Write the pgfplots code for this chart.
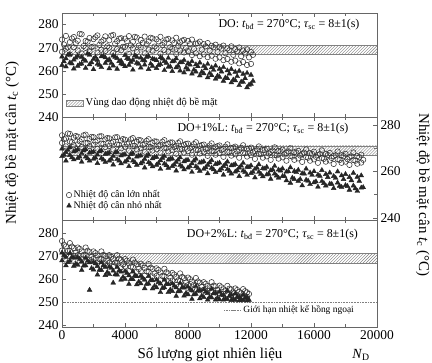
\documentclass[border=0pt]{standalone}
\usepackage{pgfplots}
\pgfplotsset{compat=1.18}
\usepackage{pgfplotstable}
\usepackage{fontspec}
\setmainfont{Liberation Serif}
\usetikzlibrary{patterns}

\pgfplotstableread{
x c1 c2 t1 t2 xb c3 t3
0 273.5 268.2 266.1 262.4 125 271.4 264.0
250 275.1 269.6 265.3 261.8 375 270.1 266.9
500 272.4 267.1 267.0 263.5 625 274.0 263.1
750 274.6 270.2 264.8 260.9 875 271.9 265.6
1000 273.0 268.8 266.4 262.1 1125 276.0 262.8
1250 275.8 267.5 265.9 263.0 1375 270.7 264.9
1500 272.9 269.9 264.2 261.2 1625 272.6 267.4
1750 274.2 268.4 266.8 262.7 1875 270.3 263.6
2000 273.7 270.5 265.1 260.6 2125 274.5 265.9
2250 275.3 267.9 264.6 262.9 2375 271.2 262.5
2500 272.6 269.1 266.2 261.5 2625 273.3 266.3
2750 274.9 268.6 265.7 263.3 2875 270.6 264.4
3000 273.2 270.0 264.9 261.0 3125 275.2 263.3
3250 275.5 267.7 266.5 262.2 3375 271.7 266.0
3500 272.8 269.4 265.4 260.8 3625 273.9 264.1
3750 274.1 268.9 264.3 263.1 3875 270.4 262.7
4000 273.9 270.3 266.7 261.9 4125 272.8 265.4
4250 275.0 267.3 265.0 262.5 4375 271.0 263.8
4500 272.5 269.7 264.7 260.4 4625 274.7 266.6
4750 274.4 268.1 266.0 263.4 4875 270.9 262.9
5000 273.3 270.1 265.6 261.3 5125 272.1 264.6
5250 274.8 267.6 264.4 262.6 5375 271.5 265.9
5500 272.7 269.2 266.3 260.7 5625 274.3 263.0
5750 274.0 268.7 265.2 262.0 5875 270.5 264.9
6000 273.6 269.8 264.5 261.1 6125 272.7 262.4
6250 274.7 267.4 265.8 262.8 6375 271.1 265.2
6500 272.2 269.0 264.1 260.2 6625 273.5 263.4
6750 273.8 268.3 265.5 261.6 6875 270.2 261.8
7000 273.1 269.5 264.0 259.8 7125 272.0 264.2
7250 274.3 267.2 265.3 261.4 7375 270.8 262.1
7500 272.3 268.8 263.6 260.0 7625 273.0 263.7
7750 273.4 267.9 264.6 259.2 7875 270.0 261.3
8000 272.9 268.5 263.2 260.5 8125 271.6 262.6
8250 273.5 266.8 264.1 258.7 8375 269.5 260.4
8500 271.8 267.6 262.7 259.6 8625 271.9 261.9
8750 272.6 266.3 263.5 257.9 8875 269.2 259.5
9000 271.5 267.1 262.0 258.8 9125 270.6 261.0
9250 272.0 265.9 262.9 257.1 9375 268.7 258.9
9500 270.8 266.5 261.4 258.0 9625 270.2 260.3
9750 271.3 265.2 262.2 256.5 9875 268.1 257.8
10000 270.4 265.8 260.8 257.3 10125 269.6 259.6
10250 270.9 264.6 261.5 255.6 10375 267.6 257.0
10500 269.7 265.1 260.1 256.7 10625 268.9 258.7
10750 270.6 263.9 260.7 254.9 10875 266.9 256.1
11000 269.4 264.4 259.5 255.8 11125 268.4 257.6
11250 270.1 263.2 259.9 253.7 11375 266.3 255.2
11500 268.8 263.8 258.6 255.1 11625 267.5 256.7
11750 269.3 262.5 259.0 252.8 11875 265.8 253.9
12000 268.1 263.0 258.2 254.3 12125 266.9 255.6
}\dataA

\pgfplotstableread{
x c1 c2 t1 t2 xb c3 t3
0 275.6 272.3 269.8 266.5 125 273.9 267.1
250 274.2 270.8 268.3 264.6 375 276.4 269.2
500 276.2 272.9 270.3 267.0 625 272.6 266.0
750 274.6 271.3 268.6 265.1 875 275.3 268.9
1000 275.0 271.7 269.4 265.7 1125 273.0 266.3
1250 273.9 270.5 267.8 264.1 1375 275.6 269.0
1500 275.9 272.2 269.5 266.3 1625 272.3 265.6
1750 274.0 270.9 268.0 264.6 1875 274.9 268.3
2000 274.8 271.5 268.5 265.4 2125 272.8 265.9
2250 273.4 269.8 267.2 263.5 2375 275.1 268.6
2500 275.2 272.0 269.0 265.7 2625 271.9 265.0
2750 273.8 270.5 267.5 264.0 2875 274.4 267.7
3000 274.3 271.0 268.1 264.6 3125 272.3 265.3
3250 272.9 269.4 266.6 262.9 3375 274.7 268.1
3500 274.8 271.6 268.4 265.2 3625 271.5 264.6
3750 273.3 270.0 266.8 263.4 3875 274.0 267.2
4000 273.7 270.6 267.3 264.1 4125 271.9 264.7
4250 272.5 269.0 265.9 262.2 4375 273.9 267.4
4500 274.4 271.0 267.8 264.6 4625 271.0 263.9
4750 272.8 269.5 266.3 262.8 4875 273.6 266.7
5000 273.4 270.0 266.8 263.4 5125 271.4 264.1
5250 272.0 268.5 265.3 261.6 5375 273.2 266.5
5500 273.9 270.6 267.2 263.9 5625 270.5 263.2
5750 272.3 269.0 265.6 262.1 5875 273.0 266.1
6000 272.9 269.6 266.2 262.8 6125 270.9 263.5
6250 271.5 268.1 264.7 261.0 6375 272.8 265.8
6500 273.5 270.2 266.6 263.3 6625 270.1 262.6
6750 271.9 268.6 265.0 261.5 6875 272.5 265.4
7000 272.5 269.2 265.5 262.2 7125 270.5 262.9
7250 271.0 267.6 264.0 260.3 7375 272.3 265.0
7500 273.0 269.7 266.0 262.7 7625 269.6 262.0
7750 271.4 268.1 264.3 260.8 7875 271.9 264.8
8000 272.0 268.7 264.9 261.6 8125 270.0 262.2
8250 270.6 267.2 263.4 259.7 8375 271.8 264.6
8500 272.6 269.3 265.4 262.1 8625 269.2 261.4
8750 271.0 267.7 263.7 260.2 8875 271.4 264.0
9000 271.6 268.3 264.3 261.0 9125 269.6 261.7
9250 270.1 266.7 262.8 259.1 9375 271.2 263.8
9500 272.1 268.8 264.8 261.5 9625 268.7 260.8
9750 270.5 267.2 263.1 259.6 9875 270.9 263.4
10000 271.2 267.9 263.7 260.4 10125 269.2 261.1
10250 269.7 266.3 262.2 258.5 10375 270.7 263.1
10500 271.7 268.4 264.2 260.9 10625 268.3 260.2
10750 270.1 266.8 262.5 259.0 10875 270.3 262.7
11000 270.7 267.4 263.1 259.8 11125 268.6 260.4
11250 269.3 265.9 261.6 257.9 11375 270.2 262.4
11500 271.3 268.0 263.6 260.3 11625 267.9 259.6
11750 269.7 266.4 261.9 258.4 11875 269.8 261.9
12000 270.3 267.0 262.5 259.2 12125 268.2 259.7
12250 268.8 265.4 261.0 257.3 12375 269.6 261.6
12500 270.8 267.5 263.0 259.7 12625 267.4 258.9
12750 269.2 265.9 261.3 257.8 12875 269.3 261.1
13000 269.8 266.5 261.9 258.6 13125 267.7 258.9
13250 268.4 265.0 260.4 256.7 13375 269.1 260.8
13500 270.4 267.1 262.3 259.0 13625 266.9 258.1
13750 268.8 265.5 260.7 257.2 13875 268.7 260.3
14000 269.4 266.1 261.2 257.9 14125 267.3 257.9
14250 268.0 264.6 259.8 256.1 14375 268.6 260.0
14500 270.0 266.7 261.7 255.0 14625 266.4 257.2
14750 268.3 265.0 260.1 256.6 14875 268.2 259.6
15000 268.9 265.6 260.6 255.8 15125 266.8 256.6
15250 267.5 264.1 259.1 253.9 15375 268.1 259.0
15500 269.5 266.2 261.1 256.3 15625 265.9 255.9
15750 267.9 264.6 259.4 254.4 15875 267.6 258.4
16000 268.5 265.2 260.0 255.2 16125 266.3 255.6
16250 267.1 263.7 258.5 253.3 16375 267.5 258.0
16500 269.1 265.8 260.5 255.7 16625 265.4 254.9
16750 267.5 264.2 258.8 253.8 16875 267.1 257.5
17000 268.0 264.7 259.4 254.6 17125 265.8 254.5
17250 266.6 263.2 257.9 252.7 17375 267.0 257.1
17500 268.6 265.3 259.9 255.1 17625 264.9 253.7
17750 267.0 263.7 258.2 253.2 17875 266.6 256.6
18000 267.6 264.2 258.8 254.0 18125 265.3 253.6
18250 266.2 262.8 257.5 252.0 18375 266.5 256.1
18500 268.2 264.9 259.3 253.8 18625 264.6 252.6
18750 266.6 263.3 257.6 251.5 18875 266.1 255.8
19000 267.2 263.8 258.2 252.9 19125 265.0 253.1
}\dataB

\pgfplotstableread{
x c1 c2 t1 t2 xb c3 t3
0 276.4 272.3 271.3 268.0 125 274.8 270.3
250 274.1 270.4 269.5 265.8 375 272.1 267.2
500 275.5 272.1 271.1 267.8 625 274.0 269.4
750 273.4 270.1 269.1 265.6 875 271.3 266.5
1000 273.6 270.3 269.3 266.0 1125 273.0 268.6
1250 271.9 268.5 267.5 263.8 1375 270.4 265.7
1500 273.6 270.3 269.1 265.8 1625 272.2 267.8
1750 271.6 268.3 267.1 255.2 1875 269.5 264.6
2000 271.9 268.6 267.3 264.0 2125 271.2 266.7
2250 270.2 266.8 265.5 261.8 2375 268.6 263.9
2500 271.9 268.6 267.1 263.8 2625 270.4 265.8
2750 270.0 266.7 265.1 261.6 2875 267.8 262.9
3000 270.3 267.0 265.3 262.0 3125 269.6 264.7
3250 268.6 265.2 263.5 258.3 3375 267.1 261.9
3500 270.3 267.0 265.1 261.8 3625 268.8 263.6
3750 268.3 265.0 263.1 259.6 3875 266.2 260.8
4000 268.6 265.3 263.3 260.0 4125 267.9 262.6
4250 266.8 263.4 261.5 257.8 4375 265.3 259.9
4500 268.4 265.1 263.1 259.8 4625 267.0 261.5
4750 266.4 263.1 261.1 257.6 4875 264.3 258.8
5000 266.6 263.3 261.3 258.0 5125 265.9 260.4
5250 264.8 261.4 259.6 255.9 5375 263.3 257.8
5500 266.4 263.1 261.2 257.9 5625 264.9 259.4
5750 264.4 261.1 259.3 255.8 5875 262.3 256.9
6000 264.6 261.3 259.6 256.3 6125 263.9 258.6
6250 262.8 259.4 257.9 254.2 6375 261.3 256.0
6500 264.4 261.1 259.6 256.3 6625 262.9 257.8
6750 262.4 259.1 257.7 254.2 6875 260.4 255.3
7000 262.6 259.3 258.0 254.7 7125 261.9 257.0
7250 260.8 257.4 256.3 252.6 7375 259.4 254.6
7500 262.4 259.1 258.1 254.8 7625 260.9 256.3
7750 260.4 257.1 256.2 252.7 7875 258.4 253.9
8000 260.6 257.3 256.6 253.3 8125 259.9 255.6
8250 258.8 255.4 255.0 251.3 8375 257.5 253.3
8500 260.4 257.1 256.8 253.5 8625 258.9 254.9
8750 258.4 255.1 255.0 251.5 8875 256.6 252.7
9000 258.6 255.3 255.4 252.1 9125 257.9 254.3
9250 256.9 255.0 253.8 251.0 9375 255.9 252.2
9500 258.6 254.8 255.7 251.9 9625 257.1 253.7
9750 256.8 254.1 253.9 251.0 9875 255.3 251.8
10000 257.1 253.8 254.4 251.1 10125 256.4 253.1
10250 255.5 253.6 252.9 251.0 10375 254.7 251.4
10500 257.0 253.4 254.8 251.2 10625 255.8 252.6
10750 255.5 253.0 253.1 250.8 10875 254.2 251.2
11000 255.9 252.9 253.6 250.9 11125 255.2 252.2
11250 254.4 252.5 252.1 250.7 11375 253.8 251.0
11500 255.6 252.4 253.0 250.8 11625 254.7 251.7
11750 254.2 252.2 252.0 250.6 11875 253.5 250.9
}\dataC

\begin{document}
\begin{tikzpicture}
\useasboundingbox (-62bp,-36bp) rectangle (370bp,327bp);
\pgfplotsset{
  every axis/.append style={
    scale only axis, width=315bp, anchor=south west,
    xmin=0, xmax=20000,
    axis line style={black!60}, tick style={black!60},
    tick align=inside,
    xtick={0,4000,...,20000}, minor x tick num=1,
    scaled ticks=false,
    /pgf/number format/set thousands separator={},
    /pgf/number format/assume math mode=true,
    tick label style={font=\fontsize{13.5}{14}\selectfont},
    legend cell align=left,
  },
  circ/.style={only marks, mark=o, mark size=2.7pt, black!80, mark options={line width=0.55pt}},
  tri/.style={only marks, mark=triangle*, mark size=2.8pt, black!85},
  band/.style={draw=gray, pattern=north east lines, pattern color=gray},
  lim/.style={densely dotted, gray, line width=0.6pt},
}
\tikzset{ptxt/.style={font=\fontsize{12}{13}\selectfont, inner sep=0pt}}

% ---------- top panel
\begin{axis}[at={(0,210bp)}, height=104bp, ymin=240, ymax=285,
  ytick={240,250,...,280}, ytick pos=left, xticklabels={},
  legend style={at={(0.01,0.135)}, anchor=west, draw=none, fill=none,
    font=\fontsize{10.5}{11}\selectfont, inner sep=1pt}]
\addplot[band, area legend] coordinates {(0,267) (20000,267) (20000,271) (0,271)} -- cycle;
\addlegendentry{Vùng dao động nhiệt độ bề mặt}
\addplot[circ, forget plot] table[x=x,y=c1]{\dataA};
\addplot[circ, forget plot] table[x=x,y=c2]{\dataA};
\addplot[circ, forget plot] table[x=xb,y=c3]{\dataA};
\addplot[tri, forget plot] table[x=x,y=t1]{\dataA};
\addplot[tri, forget plot] table[x=x,y=t2]{\dataA};
\addplot[tri, forget plot] table[x=xb,y=t3]{\dataA};
\node[ptxt, anchor=east] at (axis cs:18900,280) {DO: \textit{t}\textsubscript{bđ} = 270°C; \textit{τ}\textsubscript{sc} = 8±1(s)};
\end{axis}

% ---------- middle panel
\begin{axis}[at={(0,107bp)}, height=103bp, ymin=239, ymax=283.5,
  ytick={240,260,280}, minor ytick={250,270}, ytick pos=right, yticklabel pos=right,
  xticklabels={},
  legend style={at={(0.01,0.19)}, anchor=west, draw=none, fill=none,
    font=\fontsize{10}{11}\selectfont, inner sep=1pt, row sep=-2pt}]
\addplot[band, forget plot] coordinates {(0,267) (20000,267) (20000,271) (0,271)} -- cycle;
\addplot[circ] table[x=x,y=c1]{\dataB};
\addlegendentry{Nhiệt độ cân lớn nhất}
\addplot[tri] table[x=x,y=t1]{\dataB};
\addlegendentry{Nhiệt độ cân nhỏ nhất}
\addplot[circ, forget plot] table[x=x,y=c2]{\dataB};
\addplot[circ, forget plot] table[x=xb,y=c3]{\dataB};
\addplot[tri, forget plot] table[x=x,y=t2]{\dataB};
\addplot[tri, forget plot] table[x=xb,y=t3]{\dataB};
\node[ptxt, anchor=east] at (axis cs:18200,278.6) {DO+1\%L: \textit{t}\textsubscript{bđ} = 270°C; \textit{τ}\textsubscript{sc} = 8±1(s)};
\end{axis}

% ---------- bottom panel
\begin{axis}[at={(0,0bp)}, height=107bp, ymin=239.2, ymax=285.5,
  ytick={240,250,...,280}, ytick pos=left,
  legend style={at={(0.51,0.158)}, anchor=west, draw=none, fill=none,
    font=\fontsize{9.5}{10}\selectfont, inner sep=1pt}]
\addplot[band, forget plot] coordinates {(0,267) (20000,267) (20000,271) (0,271)} -- cycle;
\addplot[lim] coordinates {(0,250) (20000,250)};
\addlegendentry{Giới hạn nhiệt kế hồng ngoại}
\addplot[circ, forget plot] table[x=x,y=c1]{\dataC};
\addplot[circ, forget plot] table[x=x,y=c2]{\dataC};
\addplot[circ, forget plot] table[x=xb,y=c3]{\dataC};
\addplot[tri, forget plot] table[x=x,y=t1]{\dataC};
\addplot[tri, forget plot] table[x=x,y=t2]{\dataC};
\addplot[tri, forget plot] table[x=xb,y=t3]{\dataC};
\node[ptxt, anchor=east] at (axis cs:18800,279) {DO+2\%L: \textit{t}\textsubscript{bđ} = 270°C; \textit{τ}\textsubscript{sc} = 8±1(s)};
\end{axis}

% ---------- shared labels
\node[rotate=90, font=\fontsize{15}{16}\selectfont] at (-50bp,184bp) {Nhiệt độ bề mặt cân \textit{t}\textsubscript{c} (°C)};
\node[rotate=-90, font=\fontsize{15}{16}\selectfont] at (361bp,132bp) {Nhiệt độ bề mặt cân \textit{t}\textsubscript{c} (°C)};
\node[font=\fontsize{15}{16}\selectfont] at (148bp,-28bp) {Số lượng giọt nhiên liệu};
\node[font=\fontsize{14}{15}\selectfont] at (299bp,-28bp) {\textit{N}\textsubscript{D}};
\end{tikzpicture}
\end{document}
